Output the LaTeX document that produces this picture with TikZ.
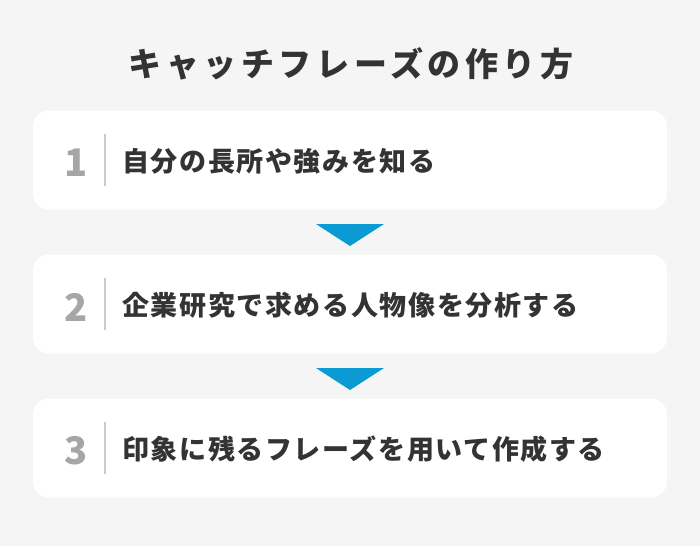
\documentclass[tikz,border=0pt]{standalone}
\usepackage{fontspec}
\setmainfont{Noto Sans CJK JP}
\newfontfamily\titlefont{Noto Sans CJK JP}[LetterSpace=14]
\newfontfamily\stepfont{Noto Sans CJK JP}[LetterSpace=6]

\definecolor{bggray}{HTML}{F5F5F5}
\definecolor{textdark}{HTML}{333333}
\definecolor{numgray}{HTML}{A6A6A6}
\definecolor{linegray}{HTML}{CCCCCC}
\definecolor{arrowblue}{HTML}{0A9BD4}

\begin{document}
\begin{tikzpicture}[x=1pt,y=-1pt]
      \tikzstyle{stepbox}=[rounded corners=16pt,fill=white,minimum width=634pt,minimum height=99pt,inner sep=0pt];
      \tikzstyle{num}=[text=numgray,font=\bfseries\fontsize{38}{38}\selectfont,inner sep=0pt];
      \tikzstyle{steptext}=[text=textdark,anchor=west,font=\stepfont\bfseries\fontsize{27}{27}\selectfont,inner sep=0pt];
      \tikzstyle{divider}=[draw=linegray,line width=1.5pt];
      \tikzstyle{tri}=[fill=arrowblue];

      \fill[bggray] (0,0) rectangle (700,546);

      \node[text=textdark,font=\titlefont\bfseries\fontsize{33}{33}\selectfont,inner sep=0pt] (title) at (351,64) {キャッチフレーズの作り方};

      \node[stepbox](box1) at (350,160) {};
      \node[stepbox](box2) at (350,304) {};
      \node[stepbox](box3) at (350,448) {};

      \node[num](n1) at (76,163) {1};
      \node[num](n2) at (76,307) {2};
      \node[num](n3) at (76,451) {3};

      \draw[divider] (105,134) -- (105,186);
      \draw[divider] (105,278) -- (105,330);
      \draw[divider] (105,422) -- (105,474);

      \node[steptext](t1) at (122,161) {自分の長所や強みを知る};
      \node[steptext](t2) at (122,305) {企業研究で求める人物像を分析する};
      \node[steptext](t3) at (122,449) {印象に残るフレーズを用いて作成する};

      \fill[tri] (316,224) -- (384,224) -- (350,246) -- cycle;
      \fill[tri] (316,368) -- (384,368) -- (350,390) -- cycle;

    \end{tikzpicture}
\end{document}
